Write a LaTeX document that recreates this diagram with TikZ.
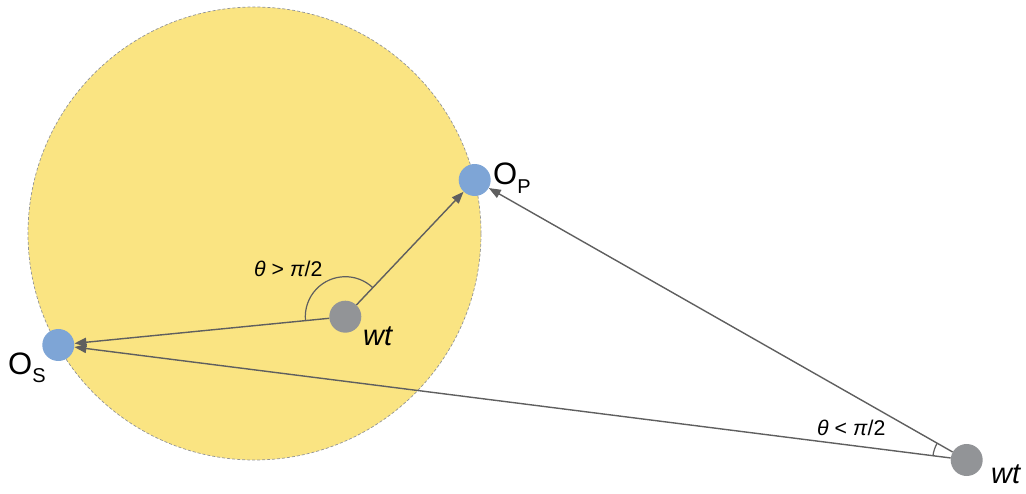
\documentclass[tikz,border=0pt]{standalone}
\usepackage{fontspec}
\setmainfont{Liberation Sans}
\usetikzlibrary{arrows.meta, angles}
\definecolor{SunYellow}{RGB}{250,228,130}
\definecolor{PtBlue}{RGB}{126,165,214}
\definecolor{WtGrey}{RGB}{146,148,151}
\definecolor{LineGrey}{RGB}{95,95,95}

\begin{document}
\begin{tikzpicture}[x=1pt, y=1pt, >={Triangle[length=12pt,width=9pt]},
    dot/.style={circle, inner sep=0pt, minimum size=32pt},
    conn/.style={->, LineGrey, line width=1.4pt},
    lbl/.style={anchor=base west, inner sep=0pt}]
    \useasboundingbox (0,0) rectangle (1026,493);
    % Sphere
    \fill[SunYellow] (254.5,259.5) circle (226.5);
    \draw[WtGrey, dash pattern=on 3pt off 2pt, line width=0.7pt] (254.5,259.5) circle (226.5);
    % Points
    \node[dot, fill=PtBlue] (op) at (474.7,313) {};
    \node[dot, fill=PtBlue] (os) at (58.3,148) {};
    \node[dot, fill=WtGrey] (wtin) at (345.3,176.3) {};
    \node[dot, fill=WtGrey] (wtout) at (966.7,33) {};
    % Vectors
    \draw[conn] (wtin) -- (op);
    \draw[conn] (wtin) -- (os);
    \draw[conn] (wtout) -- (op);
    \draw[conn] (wtout) -- (os);
    % Angles
    \pic[draw, LineGrey, line width=1.2pt, angle radius=40pt] {angle = op--wtin--os};
    \pic[draw, LineGrey, line width=1.2pt, angle radius=34pt] {angle = op--wtout--os};
    % Labels
    \node[lbl, font=\fontsize{31}{31}\selectfont] (oplbl) at (493,308) {O\raisebox{-9pt}{\fontsize{20}{20}\selectfont P}};
    \node[lbl, font=\fontsize{31}{31}\selectfont] (oslbl) at (8,118) {O\raisebox{-8pt}{\fontsize{20}{20}\selectfont S}};
    \node[lbl, font=\fontsize{29}{29}\selectfont\itshape] (wtinlbl) at (363,147) {wt};
    \node[lbl, font=\fontsize{29}{29}\selectfont\itshape] (wtoutlbl) at (991,10) {wt};
    \node[lbl, font=\fontsize{21.3}{21.3}\selectfont] (gtlbl) at (254,216) {\textit{θ} > \textit{π}/2};
    \node[lbl, font=\fontsize{21.3}{21.3}\selectfont] (ltlbl) at (817,57) {\textit{θ} < \textit{π}/2};
\end{tikzpicture}
\end{document}
